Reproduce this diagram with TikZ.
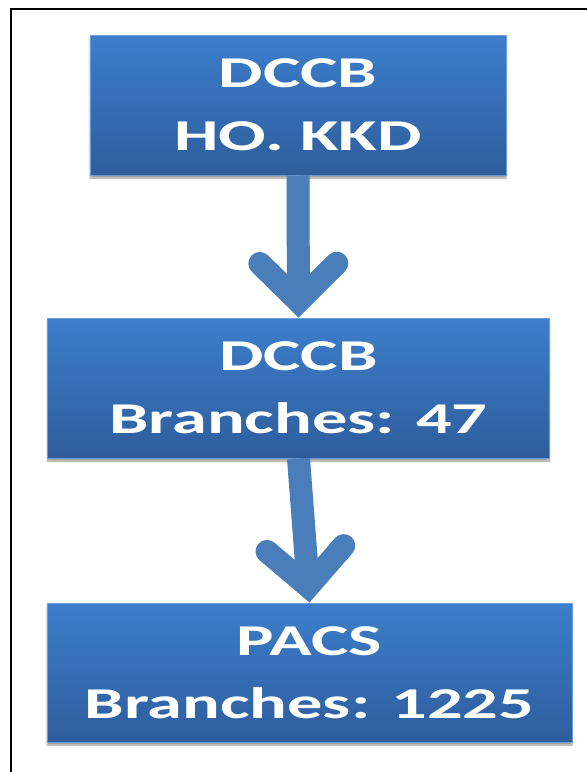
\documentclass[tikz,border=0pt]{standalone}
\usepackage{fontspec}
\newfontfamily\boxfont{Carlito}[FakeStretch=1.6]
\usetikzlibrary{arrows.meta,shadows.blur}
\definecolor{boxtop}{RGB}{60,126,204}
\definecolor{boxbot}{RGB}{46,93,156}
\definecolor{arrowblue}{RGB}{74,126,187}

\begin{document}
\begin{tikzpicture}[x=1pt, y=-1pt,
    box/.style = {rectangle, top color=boxtop, bottom color=boxbot, draw=boxtop!75!white, line width=1pt,
      text=white, align=center, inner sep=0pt, font=\boxfont\bfseries\fontsize{44}{63}\selectfont,
      blur shadow={shadow xshift=0pt, shadow yshift=-3pt, shadow blur steps=6, shadow opacity=40}},
    flow/.style = {arrowblue, line width=23pt, -{Straight Barb[length=38pt, width=77pt, line cap=round, line join=miter]}}]
  \useasboundingbox (0,0) rectangle (587,772);
  \draw[line width=2pt] (11,772) -- (11,9) -- (587,9);

  \node[box, minimum width=416pt, minimum height=140pt] (b_1) at (298,105) {DCCB\\HO. KKD};
  \node[box, minimum width=502pt, minimum height=140pt] (b_2) at (298.5,388) {DCCB\\Branches: 47};
  \node[box, minimum width=525pt, minimum height=139pt] (b_3) at (309.5,672.5) {PACS\\Branches: 1225};

  \draw[flow] (b_1.south) -- (b_2.north);
  \draw[flow] (b_2.south) -- (b_3.north);
\end{tikzpicture}
\end{document}
